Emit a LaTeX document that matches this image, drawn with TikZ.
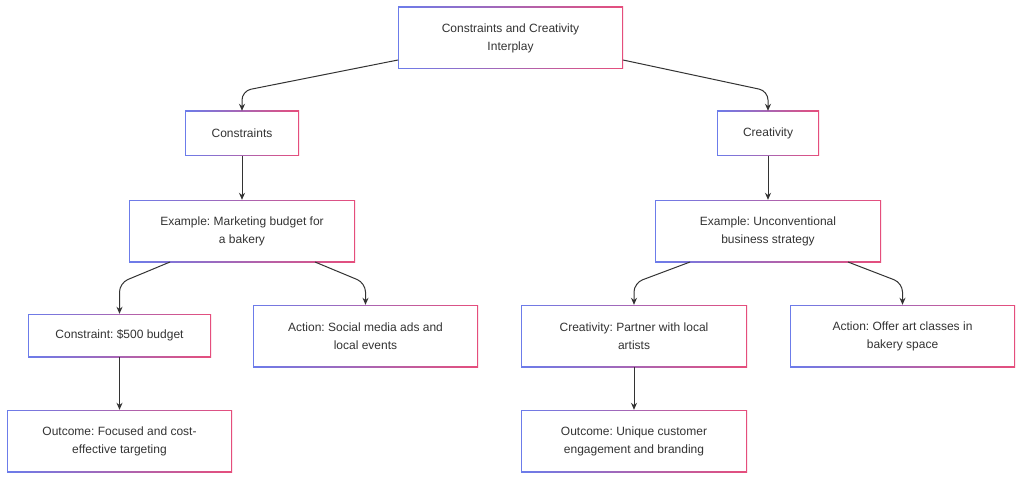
\documentclass[tikz,border=0pt]{standalone}
\usepackage{fontspec}
\setmainfont{Liberation Sans}
\usetikzlibrary{arrows.meta}
\definecolor{bl}{RGB}{108,124,234}
\definecolor{pk}{RGB}{230,78,124}
\definecolor{tx}{RGB}{51,51,51}
\frenchspacing
\begin{document}
\begin{tikzpicture}[x=1pt,y=-1pt,
  box/.style={minimum height=62pt, minimum width=226pt, align=center, inner sep=0pt,
    text=tx, font=\fontsize{12}{18}\selectfont},
  conn/.style={draw=tx, line width=1pt, rounded corners=9pt, -{Stealth[length=7pt,width=6pt]}}]
\useasboundingbox (0,0) rectangle (1024,481);
\fill[white] (0,0) rectangle (1024,481);
\newcommand{\gbox}[6]{% name, x1,y1,x2,y2, text
  \shade[left color=bl, right color=pk] (#2,#3) rectangle (#4,#5);
  \fill[white] ({#2+1.2},{#3+1.2}) rectangle ({#4-1.2},{#5-1.2});
  \node[box, minimum width={#4-#2}, minimum height={#5-#3}] (#1) at ({(#2+#4)/2},{(#3+#5)/2}) {#6};
}
\gbox{top}{398}{7}{623}{69}{Constraints and Creativity\\Interplay}
\gbox{cons}{185}{111}{299}{156}{Constraints}
\gbox{crea}{717}{111}{819}{156}{Creativity}
\gbox{exa}{129}{200}{355}{262}{Example: Marketing budget for\\a bakery}
\gbox{exb}{655}{200}{881}{262}{Example: Unconventional\\business strategy}
\gbox{c500}{28}{314}{211}{357}{Constraint: \$500 budget}
\gbox{act1}{253}{305}{478}{367}{Action: Social media ads and\\local events}
\gbox{part}{521}{305}{747}{367}{Creativity: Partner with local\\artists}
\gbox{act2}{790}{305}{1015}{367}{Action: Offer art classes in\\bakery space}
\gbox{out1}{7}{410}{232}{472}{Outcome: Focused and cost-\\effective targeting}
\gbox{out2}{521}{410}{747}{472}{Outcome: Unique customer\\engagement and branding}

\coordinate (t1) at (398,60);
\coordinate (t2) at (623,60);
\coordinate (e1) at (170,262);
\coordinate (e2) at (315,262);
\coordinate (e3) at (690,262);
\coordinate (e4) at (848,262);
\draw[conn] (t1) -- (cons.north |- 0,91) -- (cons.north);
\draw[conn] (t2) -- (crea.north |- 0,91) -- (crea.north);
\draw[conn] (cons.south) -- (exa.north);
\draw[conn] (crea.south) -- (exb.north);
\draw[conn] (e1) -- (c500.north |- 0,283) -- (c500.north);
\draw[conn] (e2) -- (act1.north |- 0,283) -- (act1.north);
\draw[conn] (e3) -- (part.north |- 0,283) -- (part.north);
\draw[conn] (e4) -- (act2.north |- 0,283) -- (act2.north);
\draw[conn] (c500.south) -- (out1.north);
\draw[conn] (part.south) -- (out2.north);
\end{tikzpicture}
\end{document}
